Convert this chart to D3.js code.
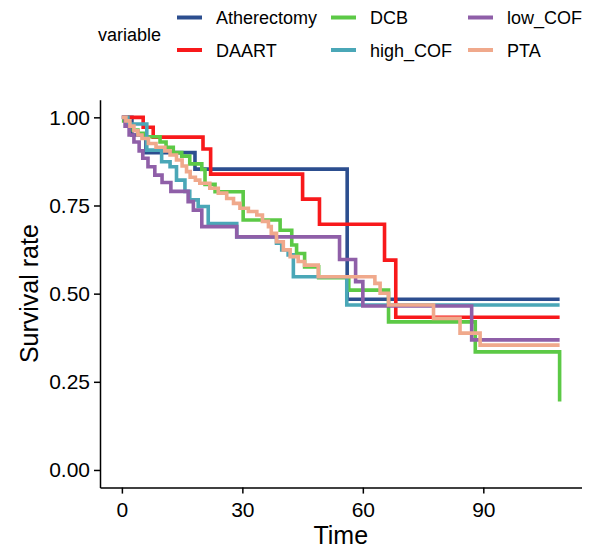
<!DOCTYPE html>
<html>
<head>
<meta charset="utf-8">
<script src="https://cdn.jsdelivr.net/npm/d3@7"></script>
<style>
  body { margin: 0; background: #fff; }
  svg { font-family: "Liberation Sans", Arial, sans-serif; }
</style>
</head>
<body>
<script>
// survival curves: [time, survival] at each step
const atherectomy = [[0, 1], [2.5, 0.95], [6, 0.90], [18.2, 0.853], [56.1, 0.484]];
const daart = [[0, 1], [5.3, 0.972], [7.8, 0.944], [20.2, 0.91], [22.1, 0.839], [45, 0.768],
  [49.2, 0.697], [65.4, 0.595], [68.2, 0.433]];
const dcb = [[0, 0.99], [1.5, 0.977], [2.8, 0.964], [4, 0.955], [5.3, 0.945], [9.5, 0.93],
  [11, 0.915], [12.8, 0.9], [14.9, 0.89], [16.9, 0.868], [19.9, 0.852], [20.7, 0.81],
  [23.2, 0.789], [30.2, 0.709], [39.4, 0.68], [42.3, 0.638], [43.5, 0.614], [45.5, 0.576],
  [49, 0.545], [56.5, 0.51], [66.4, 0.42], [88, 0.335], [109, 0.194]];
const highCof = [[0, 1], [1.5, 0.981], [6.2, 0.907], [9.9, 0.874], [12, 0.86], [13.6, 0.822],
  [15.7, 0.79], [16.9, 0.766], [19, 0.747], [21.5, 0.699], [28.6, 0.661], [38.5, 0.643],
  [39.8, 0.624], [41.4, 0.61], [42.7, 0.548], [56, 0.468]];
const lowCof = [[0, 1], [0.8, 0.975], [1.8, 0.95], [3, 0.93], [4.3, 0.905], [5.2, 0.884],
  [6.5, 0.86], [8.2, 0.836], [10, 0.815], [12.2, 0.79], [16.5, 0.761], [17.8, 0.737],
  [19.9, 0.69], [28.6, 0.661], [54.2, 0.597], [58.2, 0.534], [60, 0.465], [87.1, 0.369]];
const pta = [[0, 1], [1, 0.99], [2, 0.975], [3, 0.962], [4, 0.95], [5, 0.94], [6.6, 0.926],
  [8.5, 0.915], [10.7, 0.905], [12, 0.893], [13.6, 0.879], [15, 0.862], [16.1, 0.846],
  [17, 0.83], [18.3, 0.822], [19.4, 0.813], [21.9, 0.799], [24, 0.785], [26.1, 0.77],
  [27.8, 0.756], [29.4, 0.742], [31.5, 0.733], [33.6, 0.723], [35, 0.705], [36.5, 0.69],
  [37.2, 0.671], [38.5, 0.647], [40.2, 0.624], [41.9, 0.605], [43.9, 0.591], [45.5, 0.581],
  [48.9, 0.548], [63, 0.529], [64.3, 0.501], [66.4, 0.468], [77.6, 0.43], [84.2, 0.388],
  [89.2, 0.354]];

const categories = ['Atherectomy', 'DAART', 'DCB', 'high_COF', 'low_COF', 'PTA'];
const seriesData = [atherectomy, daart, dcb, highCof, lowCof, pta];
const colors = ['#2c4e8f', '#f8191b', '#5cc946', '#4aa7b7', '#8f5fa8', '#f0a98c'];
const xTicks = [0, 30, 60, 90];
const yTicks = [0, 0.25, 0.5, 0.75, 1];
const maxTime = 109;

const width = 597;
const height = 550;

const svg = d3.select('body')
  .append('svg')
  .attr('width', width)
  .attr('height', height);

// ggplot style 5% expansion on both axes
const x = d3.scaleLinear()
  .domain([-maxTime * 0.05, maxTime * 1.05])
  .range([100, 581.5]);

const y = d3.scaleLinear()
  .domain([-0.05, 1.05])
  .range([487.6, 99.7]);

const line = d3.line()
  .x(d => x(d[0]))
  .y(d => y(d[1]))
  .curve(d3.curveStepAfter);

seriesData.forEach((pts, i) => {
  const last = pts[pts.length - 1];
  const full = last[0] < maxTime ? pts.concat([[maxTime, last[1]]]) : pts;
  svg.append('path')
    .datum(full)
    .attr('fill', 'none')
    .attr('stroke', colors[i])
    .attr('stroke-width', 3.6)
    .attr('d', line);
});

// axes
const xAxis = svg.append('g')
  .attr('transform', `translate(0,${y.range()[0]})`)
  .call(d3.axisBottom(x).tickValues(xTicks).tickSize(6).tickSizeOuter(0).tickPadding(8));

const yAxis = svg.append('g')
  .attr('transform', `translate(${x.range()[0]},0)`)
  .call(d3.axisLeft(y).tickValues(yTicks).tickSize(6).tickSizeOuter(0).tickPadding(4)
    .tickFormat(d3.format('.2f')));

[xAxis, yAxis].forEach(g => {
  g.select('.domain').attr('stroke', '#000').attr('stroke-width', 1.5);
  g.selectAll('.tick line').attr('stroke', '#000').attr('stroke-width', 1.5);
  g.selectAll('.tick text')
    .attr('fill', '#000')
    .style('font-size', '21px')
    .style('font-family', '"Liberation Sans", Arial, sans-serif');
});

svg.append('text')
  .attr('x', (x.range()[0] + x.range()[1]) / 2)
  .attr('y', 543.5)
  .attr('text-anchor', 'middle')
  .style('font-size', '25px')
  .text('Time');

svg.append('text')
  .attr('transform', `translate(37.5,${(y.range()[0] + y.range()[1]) / 2}) rotate(-90)`)
  .attr('text-anchor', 'middle')
  .style('font-size', '25px')
  .text('Survival rate');

// legend, filled column by column
svg.append('text')
  .attr('x', 98)
  .attr('y', 40.5)
  .style('font-size', '18px')
  .text('variable');

const colX = [177, 331, 468];
const rowY = [17.5, 50];

const legend = svg.append('g')
  .selectAll('g')
  .data(categories)
  .enter()
  .append('g')
  .attr('transform', (d, i) => `translate(${colX[Math.floor(i / 2)]},${rowY[i % 2]})`);

legend.append('line')
  .attr('x1', 0)
  .attr('x2', 25)
  .attr('stroke', (d, i) => colors[i])
  .attr('stroke-width', 4);

legend.append('text')
  .attr('x', 39)
  .attr('y', 6.5)
  .style('font-size', '18px')
  .text(d => d);
</script>
</body>
</html>
